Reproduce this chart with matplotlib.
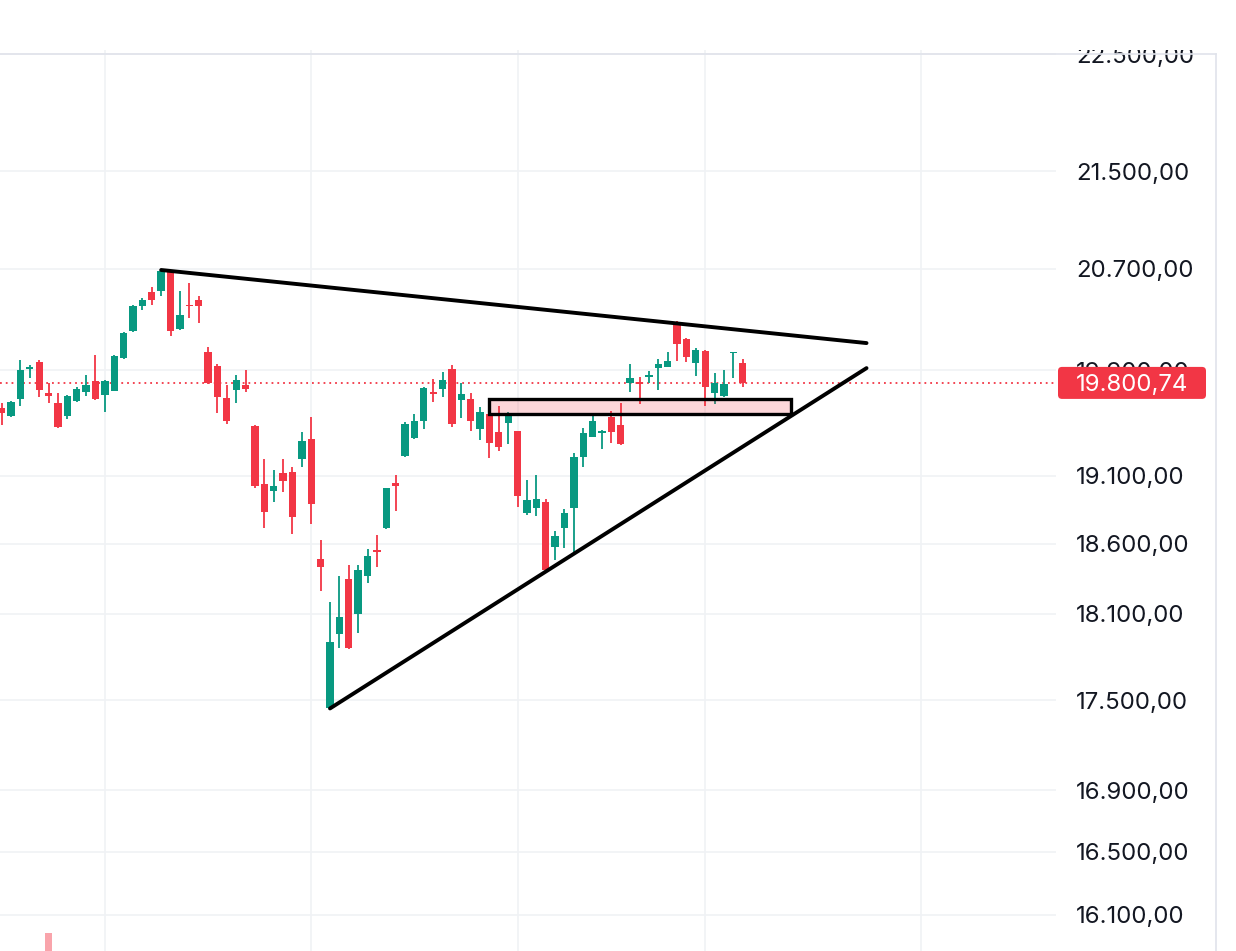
import matplotlib
matplotlib.use("Agg")
import matplotlib.pyplot as plt
from matplotlib.patches import Rectangle, FancyBboxPatch
from matplotlib.lines import Line2D
from matplotlib.transforms import IdentityTransform
from matplotlib.ticker import NullLocator

plt.rcParams['font.family'] = ['Inter', 'DejaVu Sans']

# daily OHLC
opens = [19608, 19547, 19677, 19908, 19962, 19723, 19646, 19547, 19662, 19731,
         19815, 19708, 19738, 19993, 20205, 20402, 20513, 20521, 20674, 20221,
         20410, 20450, 20040, 19931, 19685, 19746, 19785, 19472, 19036, 18985,
         19119, 19126, 19222, 19372, 18489, 17447, 17957, 18346, 18098, 18367,
         18550, 18714, 19044, 19245, 19380, 19510, 19727, 19754, 19908, 19669,
         19677, 19449, 19563, 19426, 19495, 19433, 18823, 18860, 18904, 18575,
         18714, 18860, 19237, 19388, 19422, 19540, 19479, 19800, 19808, 19850,
         19916, 19923, 20276, 20141, 19954, 20047, 19723, 19700, 20032, 19954]
highs = [19646, 19662, 19978, 19939, 19978, 19800, 19723, 19708, 19769, 19862,
         20016, 19823, 20016, 20197, 20410, 20466, 20553, 20690, 20682, 20521,
         20585, 20482, 20079, 19947, 19785, 19861, 19900, 19479, 19222, 19141,
         19222, 19163, 19426, 19540, 18626, 18183, 18367, 18446, 18446, 18561,
         18663, 19010, 19104, 19502, 19563, 19769, 19831, 19885, 19939, 19800,
         19723, 19616, 19578, 19623, 19578, 19433, 19066, 19104, 18926, 18692,
         18852, 19267, 19457, 19548, 19441, 19585, 19646, 19947, 19846, 19892,
         19986, 20040, 20280, 20149, 20071, 20055, 19877, 19900, 20040, 19986]
lows = [19479, 19540, 19623, 19838, 19692, 19646, 19460, 19525, 19654, 19700,
        19669, 19578, 19735, 19986, 20197, 20370, 20410, 20482, 20165, 20215,
        20307, 20268, 19795, 19570, 19487, 19646, 19731, 19007, 18714, 18904,
        18978, 18670, 19163, 18743, 18260, 17440, 17860, 17853, 17964, 18317,
        18432, 18710, 18838, 19237, 19372, 19449, 19654, 19692, 19464, 19532,
        19433, 19365, 19230, 19282, 19335, 18867, 18808, 18801, 18403, 18482,
        18568, 18532, 19163, 19385, 19297, 19342, 19330, 19731, 19639, 19800,
        19746, 19920, 19970, 19962, 19854, 19623, 19639, 19692, 19838, 19770]
closes = [19570, 19654, 19900, 19923, 19746, 19700, 19464, 19700, 19754, 19785,
          19677, 19815, 20008, 20189, 20402, 20450, 20450, 20682, 20205, 20331,
          20402, 20402, 19800, 19692, 19510, 19823, 19754, 19022, 18830, 19022,
          19059, 18794, 19357, 18889, 18432, 17902, 18076, 17860, 18410, 18511,
          18543, 19007, 19022, 19487, 19510, 19762, 19719, 19823, 19487, 19715,
          19510, 19578, 19342, 19312, 19570, 18948, 18919, 18926, 18410, 18655,
          18823, 19237, 19418, 19510, 19429, 19426, 19335, 19838, 19792, 19858,
          19947, 19970, 20103, 20001, 20055, 19769, 19800, 19792, 20036, 19800.74]

last_price = 19800.74
price_ticks = [16100, 16500, 16900, 17500, 18100, 18600, 19100, 19900, 20700, 21500, 22500]
month_starts = [11, 33, 55, 75, 98]

# drawings: (bar index, price)
upper_line = ([17, 92.2], [20690, 20110])
lower_line = ([35, 92.2], [17445, 19915])
zone_x = [51.95, 84.1]
zone_y = [19562, 19677]

# volume pane (only the tallest bar peeks in)
volume_idx = [5]
volume = [1.0]

GREEN = '#089981'
RED = '#f23645'
GRID = '#f0f2f5'
BORDER = '#e0e3eb'

W, H = 1236, 951
fig = plt.figure(figsize=(W / 100, H / 100), dpi=100)
top = (H - 50) / H
ax = fig.add_axes([0, 0, 1056 / W, top])
ax.set_yscale('log')
ax.set_ylim(15874, 22539)
ax.set_xlim(-0.18, 112.4)
ax.yaxis.set_minor_locator(NullLocator())
ax.set_yticks(price_ticks)
ax.set_xticks(month_starts)
ax.tick_params(length=0, labelleft=False, labelbottom=False)
ax.grid(True, color=GRID, lw=1.2)
ax.set_axisbelow(True)
for s in ax.spines.values():
    s.set_visible(False)

idx = list(range(len(opens)))
colors = [GREEN if c >= o else RED for o, c in zip(opens, closes)]
ax.axhline(last_price, color=RED, lw=1.3, ls=(0, (1, 2.2)), zorder=1)
ax.vlines(idx, lows, highs, colors=colors, lw=1.3, zorder=2)
bottoms = [min(o, c) for o, c in zip(opens, closes)]
heights = [max(abs(c - o), 12) for o, c in zip(opens, closes)]
ax.bar(idx, heights, bottom=bottoms, width=0.78, color=colors, zorder=3)

ax.plot(*upper_line, color='black', lw=2.8, solid_capstyle='round', zorder=5)
ax.plot(*lower_line, color='black', lw=2.8, solid_capstyle='round', zorder=5)
ax.add_patch(Rectangle((zone_x[0], zone_y[0]), zone_x[1] - zone_x[0], zone_y[1] - zone_y[0],
                       facecolor=(242 / 255, 54 / 255, 69 / 255, 0.2), edgecolor='black',
                       lw=2.4, zorder=4))

# volume overlay
vax = fig.add_axes([0, 0, 1056 / W, 0.1], sharex=ax)
vax.bar(volume_idx, volume, width=0.78, color=RED, alpha=0.45)
vax.set_ylim(0, 1.0 / (18 / 95.1))
vax.axis('off')

# price scale
pax = fig.add_axes([1056 / W, 0, 160 / W, top])
pax.set_yscale('log')
pax.set_ylim(ax.get_ylim())
pax.set_xlim(0, 1)
pax.axis('off')


def fmt(v):
    return f"{v:,.2f}".replace(',', 'X').replace('.', ',').replace('X', '.')


for t in price_ticks:
    pax.text(0.125, t, fmt(t), transform=pax.get_yaxis_transform(), ha='left',
             va='center_baseline', fontsize=17.3, color='#131722', clip_on=True)

# last price badge
fig.canvas.draw()
yp = pax.transData.transform((0.5, last_price))[1]
badge = FancyBboxPatch((1058, yp - 16), 148, 32, boxstyle='round,pad=0,rounding_size=4',
                       fc=RED, ec='none', transform=IdentityTransform(), zorder=10)
fig.add_artist(badge)
fig.text(1076, yp, fmt(last_price), transform=IdentityTransform(), ha='left',
         va='center_baseline', fontsize=17.3, color='white', zorder=11)

# frame
fig.add_artist(Line2D([0, 1216 / W], [(H - 54) / H] * 2, color=BORDER, lw=1.2))
fig.add_artist(Line2D([1216 / W] * 2, [0, (H - 54) / H], color=BORDER, lw=1.2))

fig.savefig('out.png', dpi=100)
